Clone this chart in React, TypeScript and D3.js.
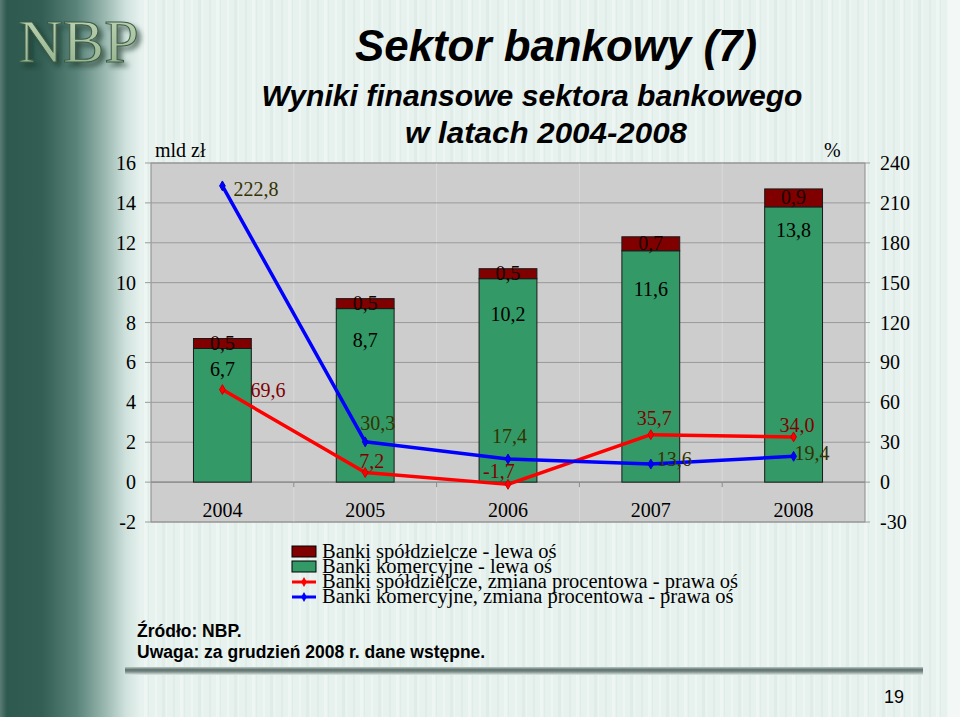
import React from 'react';
import * as d3 from 'd3';

const years = ['2004', '2005', '2006', '2007', '2008'];
const commercial = [6.7, 8.7, 10.2, 11.6, 13.8];
const cooperative = [0.5, 0.5, 0.5, 0.7, 0.9];
const commercialPct = [222.8, 30.3, 17.4, 13.6, 19.4];
const cooperativePct = [69.6, 7.2, -1.7, 35.7, 34.0];
const leftTicks = [-2, 0, 2, 4, 6, 8, 10, 12, 14, 16];
const rightTicks = [-30, 0, 30, 60, 90, 120, 150, 180, 210, 240];
const legendLabels = [
  'Banki spółdzielcze - lewa oś',
  'Banki komercyjne - lewa oś',
  'Banki spółdzielcze, zmiana procentowa - prawa oś',
  'Banki komercyjne, zmiana procentowa - prawa oś',
];

// label placement tweaks (px)
const blueLabelOff = [[11, 10], [-5, -12], [-16, -16], [6, 2], [1, 4]];
const redLabelOff = [[28, 7.5], [-6, -4.5], [-25, -6], [-14, -9.5], [-14, -5]];
const greenLabelDy = [28, 38, 42, 45, 30];

const fmt = (v: number) => v.toFixed(1).replace('.', ',');

const SERIF = '"Liberation Serif", "Times New Roman", serif';
const SANS = '"Liberation Sans", Arial, sans-serif';

export default function App() {
  const W = 960, H = 717;
  const L = 151, R = 865, T = 163, B = 522;
  const x = d3.scaleBand<string>().domain(years).range([L, R]).paddingInner(0).paddingOuter(0);
  const yL = d3.scaleLinear().domain([-2, 16]).range([B, T]);
  const yR = d3.scaleLinear().domain([-30, 240]).range([B, T]);
  const bw = x.bandwidth();
  const barW = bw * 0.405;
  const cx = (i: number) => (x(years[i]) as number) + bw / 2;

  const blueLine = d3.line<number>().x((_, i) => cx(i)).y(d => yR(d));
  const redLine = d3.line<number>().x((_, i) => cx(i)).y(d => yR(d));
  const diamond = d3.symbol().type(d3.symbolDiamond).size(28)() as string;

  const stripes = d3.range(0, 140).map(i => i);

  return (
    <svg width={W} height={H} style={{ position: 'absolute', left: 0, top: 0, display: 'block' }}>
      <defs>
        <linearGradient id="leftband" x1="0" x2="1" y1="0" y2="0">
          <stop offset="0" stopColor="#5a7b73" />
          <stop offset="0.05" stopColor="#2e594e" />
          <stop offset="0.3" stopColor="#335e54" />
          <stop offset="0.55" stopColor="#5a847a" />
          <stop offset="0.75" stopColor="#9ab8b0" />
          <stop offset="0.9" stopColor="#d0e2dd" />
          <stop offset="1" stopColor="#e5f1ee" />
        </linearGradient>
        <linearGradient id="sep" x1="0" x2="0" y1="0" y2="1">
          <stop offset="0" stopColor="#b9c8c4" />
          <stop offset="0.35" stopColor="#5d6f6a" />
          <stop offset="0.6" stopColor="#7d8f8a" />
          <stop offset="1" stopColor="#dfeae7" />
        </linearGradient>
        <linearGradient id="logo" x1="0" x2="0" y1="0" y2="1">
          <stop offset="0" stopColor="#c4d8b8" />
          <stop offset="1" stopColor="#8fae88" />
        </linearGradient>
        <filter id="logoShadow" x="-20%" y="-30%" width="150%" height="170%">
          <feDropShadow dx="4" dy="4" stdDeviation="2.5" floodColor="#0f2a22" floodOpacity="0.6" />
        </filter>
      </defs>

      {/* background */}
      <rect x={0} y={0} width={W} height={H} fill="#e7f2ef" />
      {stripes.map(i => (
        <rect key={i} x={130 + i * 6 + ((i * 7) % 3)} y={0} width={(i % 3) + 1} height={H}
          fill={i % 2 ? '#dde9e6' : '#f1f8f6'} opacity={0.7} />
      ))}
      <rect x={0} y={0} width={140} height={H} fill="url(#leftband)" />
      <rect x={948} y={0} width={12} height={H} fill="#f3f8f7" />

      {/* logo */}
      <text x={18} y={62} fontFamily={SERIF} fontSize={62} fill="url(#logo)" stroke="#3a5a46" strokeWidth={1}
        filter="url(#logoShadow)">NBP</text>

      {/* titles */}
      <text x={556} y={61} textAnchor="middle" fontFamily={SANS} fontWeight="bold" fontStyle="italic" fontSize={44}
        textLength={402} lengthAdjust="spacingAndGlyphs">Sektor bankowy (7)</text>
      <text x={532} y={106} textAnchor="middle" fontFamily={SANS} fontWeight="bold" fontStyle="italic" fontSize={29}
        textLength={541} lengthAdjust="spacingAndGlyphs">Wyniki finansowe sektora bankowego</text>
      <text x={546} y={143} textAnchor="middle" fontFamily={SANS} fontWeight="bold" fontStyle="italic" fontSize={29}
        textLength={282} lengthAdjust="spacingAndGlyphs">w latach 2004-2008</text>

      {/* plot area */}
      <rect x={L} y={T} width={R - L} height={B - T} fill="#cdcdcd" stroke="#8a8a8a" strokeWidth={1} />
      {years.slice(1).map(yr => (
        <line key={yr} x1={x(yr)} x2={x(yr)} y1={T} y2={B} stroke="#dadada" strokeWidth={1} />
      ))}
      {leftTicks.map(t => (
        <line key={t} x1={L - 6} x2={R + 5} y1={yL(t)} y2={yL(t)} stroke="#9a9a9a" strokeWidth={1} />
      ))}
      <line x1={L} x2={R} y1={yL(0)} y2={yL(0)} stroke="#8a8a8a" strokeWidth={1.2} />
      {years.slice(1).map(yr => (
        <line key={'t' + yr} x1={x(yr)} x2={x(yr)} y1={yL(0)} y2={yL(0) + 5} stroke="#8a8a8a" strokeWidth={1} />
      ))}

      {/* axis labels */}
      {leftTicks.map(t => (
        <text key={'l' + t} x={136} y={yL(t) + 7} textAnchor="end" fontFamily={SERIF} fontSize={20} fill="#000">{t}</text>
      ))}
      {rightTicks.map(t => (
        <text key={'r' + t} x={880} y={yR(t) + 7} textAnchor="start" fontFamily={SERIF} fontSize={20} fill="#000">{t}</text>
      ))}
      <text x={155} y={157} fontFamily={SERIF} fontSize={20}>mld zł</text>
      <text x={824} y={157} fontFamily={SERIF} fontSize={20}>%</text>
      {years.map((yr, i) => (
        <text key={'x' + yr} x={cx(i)} y={517} textAnchor="middle" fontFamily={SERIF} fontSize={20}>{yr}</text>
      ))}

      {/* bars */}
      {years.map((yr, i) => (
        <g key={'b' + yr}>
          <rect x={cx(i) - barW / 2} y={yL(commercial[i])} width={barW} height={yL(0) - yL(commercial[i])}
            fill="#339966" stroke="#1a1a1a" strokeWidth={1} />
          <rect x={cx(i) - barW / 2} y={yL(commercial[i] + cooperative[i])} width={barW}
            height={yL(commercial[i]) - yL(commercial[i] + cooperative[i])}
            fill="#800000" stroke="#1a1a1a" strokeWidth={1} />
          <text x={cx(i)} y={(yL(commercial[i]) + yL(commercial[i] + cooperative[i])) / 2 + 6.5} textAnchor="middle"
            fontFamily={SERIF} fontSize={20} fill="#1a0000">{fmt(cooperative[i])}</text>
          <text x={cx(i)} y={yL(commercial[i]) + greenLabelDy[i]} textAnchor="middle"
            fontFamily={SERIF} fontSize={20} fill="#000">{fmt(commercial[i])}</text>
        </g>
      ))}

      {/* lines */}
      <path d={redLine(cooperativePct) as string} fill="none" stroke="#ff0000" strokeWidth={3.5} strokeLinejoin="round" />
      <path d={blueLine(commercialPct) as string} fill="none" stroke="#0000ff" strokeWidth={3.5} strokeLinejoin="round" />
      {cooperativePct.map((v, i) => (
        <path key={'rm' + i} d={diamond} transform={`translate(${cx(i)},${yR(v)})`} fill="#ff0000" stroke="#cc0000" />
      ))}
      {commercialPct.map((v, i) => (
        <path key={'bm' + i} d={diamond} transform={`translate(${cx(i)},${yR(v)})`} fill="#0000ff" stroke="#0000cc" />
      ))}
      {commercialPct.map((v, i) => (
        <text key={'bl' + i} x={cx(i) + blueLabelOff[i][0]} y={yR(v) + blueLabelOff[i][1]}
          fontFamily={SERIF} fontSize={20} fill="#333300">{fmt(v)}</text>
      ))}
      {cooperativePct.map((v, i) => (
        <text key={'rl' + i} x={cx(i) + redLabelOff[i][0]} y={yR(v) + redLabelOff[i][1]}
          fontFamily={SERIF} fontSize={20} fill="#800000">{fmt(v)}</text>
      ))}

      {/* legend */}
      {legendLabels.map((lab, i) => {
        const base = 558 + i * 15;
        return (
          <g key={'lg' + i}>
            {i < 2 ? (
              <rect x={292} y={base - 12} width={24} height={11} fill={i === 0 ? '#800000' : '#339966'} stroke="#000" strokeWidth={1} />
            ) : (
              <g>
                <line x1={292} x2={316} y1={base - 6} y2={base - 6} stroke={i === 2 ? '#ff0000' : '#0000ff'} strokeWidth={3} />
                <path d={diamond} transform={`translate(304,${base - 6})`} fill={i === 2 ? '#ff0000' : '#0000ff'} />
              </g>
            )}
            <text x={322} y={base} fontFamily={SERIF} fontSize={20.5} fill="#000">{lab}</text>
          </g>
        );
      })}

      {/* notes */}
      <text x={137} y={637} fontFamily={SANS} fontWeight="bold" fontSize={17.5} fill="#000">Źródło: NBP.</text>
      <text x={137} y={658} fontFamily={SANS} fontWeight="bold" fontSize={17.5} fill="#000">Uwaga: za grudzień 2008 r. dane wstępne.</text>

      <rect x={125} y={667} width={798} height={8} fill="url(#sep)" />
      <text x={894} y={703} textAnchor="middle" fontFamily={SANS} fontSize={18} fill="#000">19</text>
    </svg>
  );
}
